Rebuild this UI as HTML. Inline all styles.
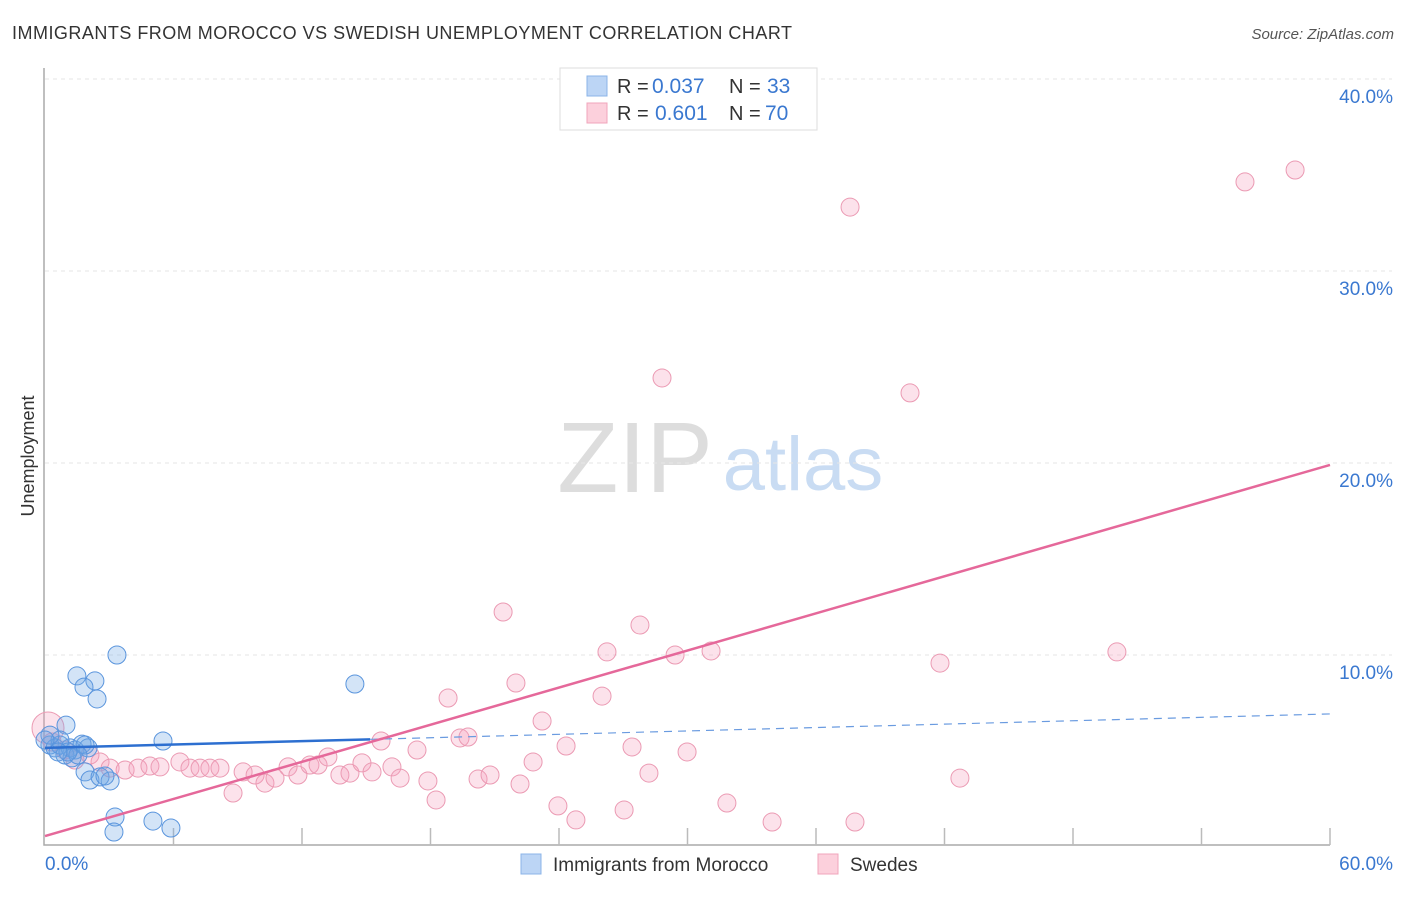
<!DOCTYPE html>
<html><head><meta charset="utf-8"><style>
body{margin:0;background:#fff;font-family:"Liberation Sans",sans-serif}
svg text{font-family:"Liberation Sans",sans-serif}
</style></head><body>
<svg id="c" width="1406" height="892">
<text x="12" y="39" font-size="18" fill="#333" textLength="780">IMMIGRANTS FROM MOROCCO VS SWEDISH UNEMPLOYMENT CORRELATION CHART</text>
<text x="1394" y="39" font-size="15" fill="#555" text-anchor="end" font-style="italic">Source: ZipAtlas.com</text>
<text x="34" y="456" font-size="18" fill="#333" transform="rotate(-90 34 456)" text-anchor="middle">Unemployment</text>
<g><text x="635" y="492" font-size="100" fill="#ddd" font-family="Liberation Serif" text-anchor="middle">ZIP</text><text x="803" y="490" font-size="76" fill="#c9dcf3" text-anchor="middle">atlas</text></g>
<g id="grid"></g><g id="axes"></g><g id="pts"></g><g id="lines"></g>
<g>
<rect x="560" y="68" width="257" height="62" fill="#fff" stroke="#ddd"/>
<rect x="587" y="76" width="20" height="20" fill="#bcd5f5" stroke="#8bb4e8"/>
<rect x="587" y="103" width="20" height="20" fill="#fcd0dc" stroke="#f0a5bb"/>
<text x="617" y="93" font-size="20" fill="#333">R =</text><text x="652" y="93" font-size="21" fill="#3a78d0">0.037</text>
<text x="729" y="93" font-size="20" fill="#333">N =</text><text x="767" y="93" font-size="21" fill="#3a78d0">33</text>
<text x="617" y="120" font-size="20" fill="#333">R =</text><text x="655" y="120" font-size="21" fill="#3a78d0">0.601</text>
<text x="729" y="120" font-size="20" fill="#333">N =</text><text x="765" y="120" font-size="21" fill="#3a78d0">70</text>
</g>
<g>
<rect x="521" y="854" width="20" height="20" fill="#bcd5f5" stroke="#8bb4e8"/>
<text x="553" y="871" font-size="19" fill="#333">Immigrants from Morocco</text>
<rect x="818" y="854" width="20" height="20" fill="#fcd0dc" stroke="#f0a5bb"/>
<text x="850" y="871" font-size="19" fill="#333">Swedes</text>
</g>
</svg>
<script>
const yTicks=[10,20,30,40];
const yTickLabels=["10.0%","20.0%","30.0%","40.0%"];
const xTickLabels=["0.0%","60.0%"];
const blueX=[3.36,1.49,2.33,1.82,2.43,14.47,0.98,5.51,0.23,0.47,0.70,1.17,1.40,1.73,2.01,0.93,1.26,1.87,0.70,1.54,1.87,2.10,2.57,3.04,2.80,3.27,3.22,5.04,5.88,0.23,1.07,0.61,0];
const blueY=[10.0,8.91,8.65,8.33,7.71,8.49,6.35,5.52,5.31,5.16,5.31,5.16,5.05,5.36,5.16,4.79,4.64,5.31,5.57,4.79,3.91,3.49,3.65,3.44,3.70,1.56,0.78,1.35,0.99,5.83,4.95,4.95,5.57];
const pinkX=[0.14,0.33,0.93,1.40,2.10,2.57,3.04,3.74,4.34,4.90,5.37,6.30,6.77,7.24,7.70,8.17,8.78,9.25,9.81,10.27,10.74,11.35,11.81,12.37,12.75,13.21,13.77,14.24,14.80,15.27,15.69,16.20,16.58,17.37,17.88,18.26,18.82,19.38,19.75,20.22,20.78,21.39,21.99,22.18,22.79,23.21,23.95,24.33,24.79,26.01,26.24,27.04,27.41,27.78,28.20,28.81,29.42,29.98,31.10,31.84,33.95,37.59,37.82,40.39,41.79,42.72,50.05,56.03,58.37];
const pinkY=[6.2,5.47,5.05,4.53,4.79,4.43,4.11,4.01,4.11,4.22,4.17,4.43,4.11,4.11,4.11,4.11,2.81,3.91,3.75,3.33,3.59,4.17,3.75,4.27,4.27,4.69,3.75,3.85,4.38,3.91,5.52,4.17,3.59,5.05,3.44,2.45,7.76,5.68,5.73,3.54,3.75,12.24,8.54,3.28,4.43,6.56,2.14,5.26,1.41,7.86,10.16,1.93,5.21,11.56,3.85,24.43,10.0,4.95,10.21,2.29,1.30,33.33,1.30,23.65,9.58,3.59,10.16,34.64,35.26];
const blueFit=[5.16,6.93], blueSolidEnd=15.18;
const pinkFit=[0.57,19.9];
const X=v=>45+v/60*1285, Y=v=>847-v*19.2;
const NS="http://www.w3.org/2000/svg";
function mk(p,t,a){const e=document.createElementNS(NS,t);for(const k in a)e.setAttribute(k,a[k]);document.getElementById(p).appendChild(e);return e;}
yTicks.forEach((t,i)=>{
 const l=mk('grid','line',{x1:45,x2:1392,y1:Y(t),y2:Y(t),stroke:'#e6e6e6','stroke-dasharray':'4,4'});
 
 
 const tx=mk('grid','text',{x:1393,y:Y(t)+24,'font-size':19,fill:'#3a78d0','text-anchor':'end'});
 tx.textContent=yTickLabels[i];
 
 
});
const ax=mk('axes','path',{d:'M44 68V845H1330',fill:'none',stroke:'#aaa','stroke-width':1.5});


for(let i=1;i<=10;i++){const x=X(i*6);
 const t=mk('axes','line',{x1:x,x2:x,y1:828,y2:845,stroke:'#bbb','stroke-width':1.5});
 
 }
[[0,'start',45],[60,'end',1393]].forEach((d,i)=>{
 const t=mk('axes','text',{x:d[2],y:870,'font-size':19,fill:'#3a78d0','text-anchor':d[1]});
 t.textContent=xTickLabels[i];
 
 });
pinkX.forEach((v,i)=>{
 const c=mk('pts','circle',{cx:X(v),cy:Y(pinkY[i]),r:i==0?16:9,fill:'rgba(245,160,190,0.3)',stroke:'#eb9ab3','stroke-width':1});
 
 });
blueX.forEach((v,i)=>{
 const c=mk('pts','circle',{cx:X(v),cy:Y(blueY[i]),r:9,fill:'rgba(110,165,230,0.3)',stroke:'#5a95dd','stroke-width':1});
 
 });
const bf=v=>blueFit[0]+(blueFit[1]-blueFit[0])*v/60;
let l1=mk('lines','line',{x1:X(0),y1:Y(bf(0)),x2:X(blueSolidEnd),y2:Y(bf(blueSolidEnd)),stroke:'#2d6fd0','stroke-width':2.5});


let l2=mk('lines','line',{x1:X(blueSolidEnd),y1:Y(bf(blueSolidEnd)),x2:X(60),y2:Y(bf(60)),stroke:'#6a9be0','stroke-width':1.2,'stroke-dasharray':'8,6'});


let l3=mk('lines','line',{x1:X(0),y1:Y(pinkFit[0]),x2:X(60),y2:Y(pinkFit[1]),stroke:'#e5689a','stroke-width':2.5});


</script>
</body></html>
